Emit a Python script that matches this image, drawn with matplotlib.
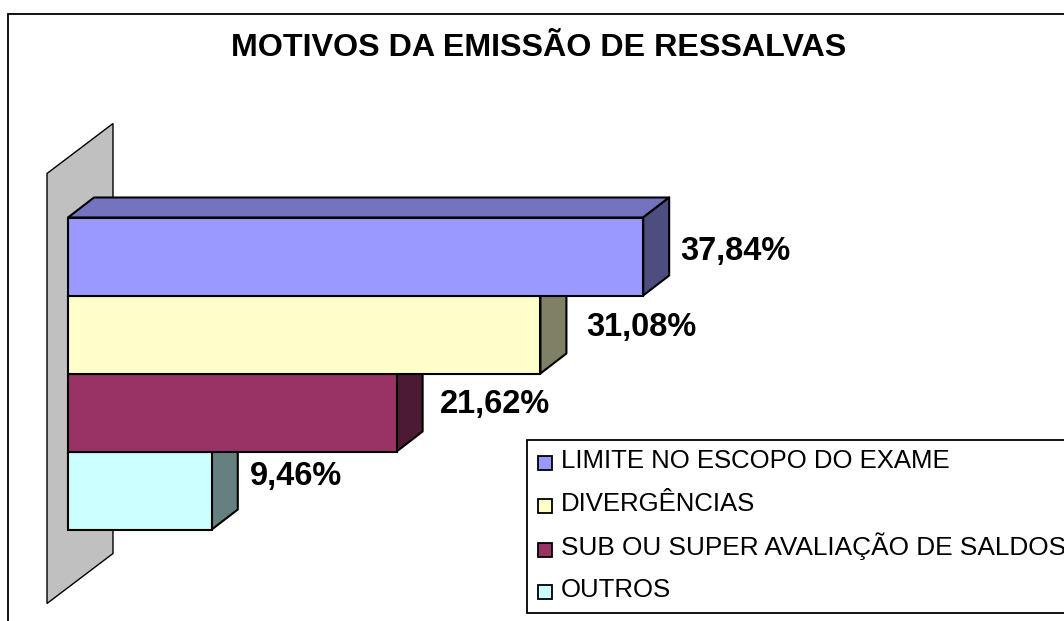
import numpy as np
from matplotlib import pyplot as plt
from matplotlib.patches import Polygon, Rectangle

plt.rcParams['font.family'] = ['Liberation Sans', 'DejaVu Sans']

categories = ['LIMITE NO ESCOPO DO EXAME', 'DIVERGÊNCIAS',
              'SUB OU SUPER AVALIAÇÃO DE SALDOS', 'OUTROS']
values = [37.84, 31.08, 21.62, 9.46]
labels = ['37,84%', '31,08%', '21,62%', '9,46%']
colors = ['#9999ff', '#ffffcc', '#993366', '#ccffff']
tops = ['#7373bf', '#bfbf99', '#73264d', '#99bfbf']
sides = ['#4d4d80', '#808066', '#4d1a33', '#668080']

W, H = 1064, 621
fig = plt.figure(figsize=(W/100, H/100), dpi=100)
bg = fig.add_axes([0, 0, 1, 1])
bg.set_xlim(0, W)
bg.set_ylim(H, 0)
bg.axis('off')

# frame and title live in pixel space
bg.add_patch(Rectangle((7.5, 13.5), 1100, 700, fc='white', ec='black', lw=1.3))
bg.text(538.5, 48, 'MOTIVOS DA EMISSÃO DE RESSALVAS', fontsize=23.2, fontweight='bold',
        ha='center', va='center')

# value axis: 15.2 px per percent, each category is 78 px high
px = 15.2
py = 78
ax = fig.add_axes([0, 0, 1, 1])
ax.patch.set_alpha(0)
x0 = 68
y0 = 217.5
ax.set_xlim(-x0/px, (W-x0)/px)
ax.set_ylim((H-y0)/py, -y0/py)
ax.axis('off')

dx = 26/px
dy = 20/py
wl = -21/px

# wall behind the bars
wall = [(wl, -44/py), (wl+66/px, -94/py), (wl+66/px, 336/py), (wl, 386/py)]
ax.add_patch(Polygon(wall, fc='#c0c0c0', ec='black', lw=1, zorder=1))

for i, v in reversed(list(enumerate(values))):
    ax.add_patch(Polygon([(0, i), (dx, i-dy), (v+dx, i-dy), (v, i)],
                         fc=tops[i], ec='black', lw=1.5, zorder=2, joinstyle='round'))
    ax.add_patch(Polygon([(v, i), (v+dx, i-dy), (v+dx, i+1-dy), (v, i+1)],
                         fc=sides[i], ec='black', lw=1.5, zorder=2, joinstyle='round'))
    ax.add_patch(Rectangle((0, i), v, 1, fc=colors[i], ec='black', lw=1.5, zorder=3))

# label offsets from the bar end, in px
label_dx = [37, 46, 43, 38]
label_dy = [34, 32, 31, 25]
for i, v in enumerate(values):
    ax.text(v + label_dx[i]/px, i + label_dy[i]/py, labels[i], fontsize=23.5, fontweight='bold',
            ha='left', va='center', zorder=5)

# legend box runs off the right edge like the original
bg.add_patch(Rectangle((526.5, 439.5), 700, 173.5, fc='white', ec='black', lw=1.3, zorder=6))
leg_base = [468, 511, 555, 597]
leg_size = [18.5, 18.5, 18.9, 18.5]
for name, c, y, s in zip(categories, colors, leg_base, leg_size):
    bg.add_patch(Rectangle((538, y-12), 14, 14, fc=c, ec='black', lw=1.3, zorder=7))
    bg.text(561, y, name, fontsize=s, ha='left', va='baseline', zorder=7)

fig.savefig('out.png', dpi=100)
